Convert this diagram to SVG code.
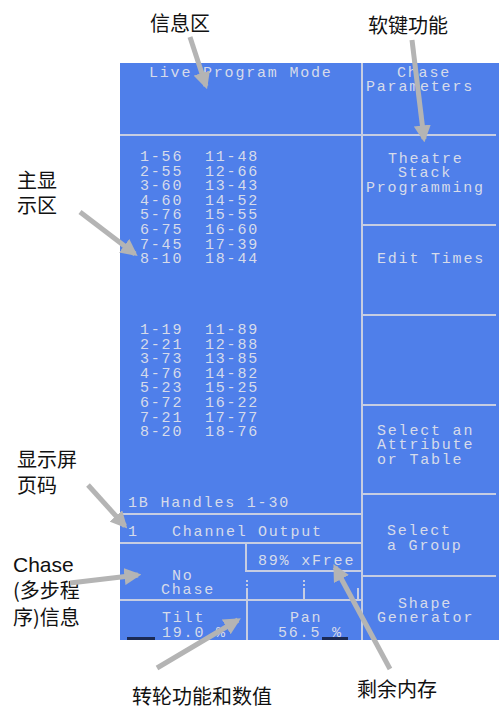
<svg xmlns="http://www.w3.org/2000/svg" width="499" height="711" viewBox="0 0 499 711">
<defs>
<style>
.scr{fill:#4f7fea}
.ln{stroke:#c6cde2;stroke-width:2;fill:none}
.dt{stroke:#c6cde2;stroke-width:2;fill:none;stroke-dasharray:2 2}
.t{font-family:"Liberation Mono","DejaVu Sans Mono",monospace;font-size:15px;letter-spacing:1.8px;fill:#d6dbea}
.cn{font-family:"Noto Sans CJK SC","Noto Sans CJK JP",sans-serif;font-size:20px;fill:#111}
.en{font-family:"Liberation Sans",Arial,"Noto Sans CJK SC",sans-serif;font-size:21px;fill:#111}
.ar{stroke:#b4b4b4;stroke-width:5;fill:none;marker-end:url(#ah)}
.bar{fill:#1b2a55}
</style>
<marker id="ah" viewBox="0 0 10 10" refX="8" refY="5" markerWidth="3.4" markerHeight="3.4" orient="auto" markerUnits="strokeWidth">
<path d="M0,0 L10,5 L0,10 Z" fill="#b4b4b4"/>
</marker>
</defs>

<g id="screen">
<rect class="scr" x="120" y="63" width="379" height="577"/>
<rect class="bar" x="127" y="637" width="28" height="3"/>
<rect class="bar" x="322" y="637" width="26" height="3"/>
<path class="ln" d="M362,63 V640 M120,135 H496 M362,225 H496 M362,315 H496 M362,405 H496 M362,494 H496 M362,576 H496 M120,514 H362 M120,543 H362 M246,543 V571 H362 M120,600 H362 M247,590 V640 M304,590 V600 M358,588 V600"/>
<path class="dt" d="M247,580 V590 M304,580 V590"/>
</g>

<g id="info-area">
<text class="t" x="149" y="77">Live Program Mode</text>
</g>

<g id="softkeys">
<text class="t" x="397" y="77">Chase</text>
<text class="t" x="366" y="91">Parameters</text>
<text class="t" x="388" y="163">Theatre</text>
<text class="t" x="398" y="177">Stack</text>
<text class="t" x="366" y="192">Programming</text>
<text class="t" x="377" y="263">Edit Times</text>
<text class="t" x="377" y="435">Select an</text>
<text class="t" x="377" y="449">Attribute</text>
<text class="t" x="377" y="464">or Table</text>
<text class="t" x="387" y="535">Select</text>
<text class="t" x="387" y="550">a Group</text>
<text class="t" x="398" y="608">Shape</text>
<text class="t" x="377" y="622">Generator</text>
</g>

<g id="main-display">
<text class="t" x="140" y="161">1-56</text><text class="t" x="205" y="161">11-48</text>
<text class="t" x="140" y="175.6">2-55</text><text class="t" x="205" y="175.6">12-66</text>
<text class="t" x="140" y="190.2">3-60</text><text class="t" x="205" y="190.2">13-43</text>
<text class="t" x="140" y="204.8">4-60</text><text class="t" x="205" y="204.8">14-52</text>
<text class="t" x="140" y="219.4">5-76</text><text class="t" x="205" y="219.4">15-55</text>
<text class="t" x="140" y="234">6-75</text><text class="t" x="205" y="234">16-60</text>
<text class="t" x="140" y="248.6">7-45</text><text class="t" x="205" y="248.6">17-39</text>
<text class="t" x="140" y="263">8-10</text><text class="t" x="205" y="263">18-44</text>
<text class="t" x="140" y="334">1-19</text><text class="t" x="205" y="334">11-89</text>
<text class="t" x="140" y="348.6">2-21</text><text class="t" x="205" y="348.6">12-88</text>
<text class="t" x="140" y="363.2">3-73</text><text class="t" x="205" y="363.2">13-85</text>
<text class="t" x="140" y="377.8">4-76</text><text class="t" x="205" y="377.8">14-82</text>
<text class="t" x="140" y="392.4">5-23</text><text class="t" x="205" y="392.4">15-25</text>
<text class="t" x="140" y="407">6-72</text><text class="t" x="205" y="407">16-22</text>
<text class="t" x="140" y="421.6">7-21</text><text class="t" x="205" y="421.6">17-77</text>
<text class="t" x="140" y="436">8-20</text><text class="t" x="205" y="436">18-76</text>
<text class="t" x="128" y="507">1B Handles 1-30</text>
</g>

<g id="page-number">
<text class="t" x="128" y="536">1</text>
<text class="t" x="172" y="536">Channel</text>
<text class="t" x="258" y="536">Output</text>
</g>

<g id="free-memory">
<text class="t" x="258" y="565">89% xFree</text>
</g>

<g id="chase-info">
<text class="t" x="172" y="580">No</text>
<text class="t" x="161" y="594">Chase</text>
</g>

<g id="wheels">
<text class="t" x="162" y="622">Tilt</text>
<text class="t" x="162" y="637">19.0 %</text>
<text class="t" x="290" y="622">Pan</text>
<text class="t" x="278" y="637">56.5 %</text>
</g>

<g id="labels">
<text class="cn" x="150" y="31">信息区</text>
<text class="cn" x="368" y="33">软键功能</text>
<text class="cn" x="17" y="188">主显</text>
<text class="cn" x="17" y="213">示区</text>
<text class="cn" x="17" y="467">显示屏</text>
<text class="cn" x="17" y="493">页码</text>
<text class="en" x="13" y="572">Chase</text>
<text class="cn" x="13" y="598">(多步程</text>
<text class="cn" x="13" y="625">序)信息</text>
<text class="cn" x="132" y="704">转轮功能和数值</text>
<text class="cn" x="357" y="697">剩余内存</text>
</g>

<g id="connectors">
<line class="ar" x1="190" y1="37" x2="206" y2="86"/>
<line class="ar" x1="412" y1="40" x2="424" y2="139"/>
<line class="ar" x1="80" y1="212" x2="135" y2="254"/>
<line class="ar" x1="88" y1="485" x2="125" y2="526"/>
<line class="ar" x1="70" y1="583" x2="138" y2="575"/>
<line class="ar" x1="157" y1="668" x2="238" y2="620"/>
<line class="ar" x1="390" y1="669" x2="335" y2="567"/>
</g>
</svg>
